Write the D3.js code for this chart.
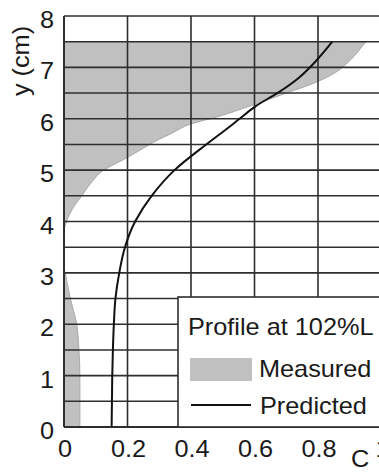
<!DOCTYPE html>
<html><head><meta charset="utf-8">
<script src="https://cdn.jsdelivr.net/npm/d3@7/dist/d3.min.js"></script>
<style>
html,body{margin:0;padding:0;background:#fff;overflow:hidden;}
svg{display:block;}
text{font-family:"Liberation Sans",Arial,sans-serif;fill:#1a1a1a;}
</style></head>
<body>
<svg id="chart" width="379" height="473"></svg>
<script>
// ---- data ----
const measuredY = [0, 0.5, 1, 1.5, 2, 2.5, 2.8, 3.0, 3.1, 3.8, 4.0, 4.25, 4.5, 4.75, 5.0, 5.2, 5.3, 5.5, 5.6, 5.7, 5.9, 6.05, 6.15, 6.3, 6.5, 6.7, 6.9, 7.1, 7.3, 7.5];
const measuredC = [0.05, 0.05, 0.05, 0.047, 0.04, 0.02, 0.01, 0.004, 0, 0, 0.008, 0.027, 0.056, 0.085, 0.125, 0.186, 0.215, 0.27, 0.30, 0.334, 0.40, 0.49, 0.54, 0.61, 0.70, 0.79, 0.855, 0.895, 0.925, 0.95];
const predictedY = [0, 0.5, 1, 1.5, 2, 2.5, 3, 3.5, 4, 4.5, 5, 5.5, 5.8, 6, 6.25, 6.5, 6.8, 7.1, 7.5];
const predictedC = [0.15, 0.151, 0.152, 0.154, 0.157, 0.162, 0.174, 0.192, 0.224, 0.276, 0.348, 0.448, 0.512, 0.553, 0.605, 0.672, 0.74, 0.79, 0.845];
const xTicks = [0, 0.2, 0.4, 0.6, 0.8, 1];
const yTicks = [0, 1, 2, 3, 4, 5, 6, 7, 8];
const yGrid = d3.range(0, 8.01, 0.5);
const legendTitle = "Profile at 102%L";
const legendLabels = ["Measured", "Predicted"];

// ---- layout ----
const svg = d3.select("#chart");
const pLeft = 64, pTop = 16, pRight = 381.5, pBottom = 427;
const x = d3.scaleLinear().domain([0, 1]).range([pLeft, pRight]);
const y = d3.scaleLinear().domain([0, 8]).range([pBottom, pTop]);
const FS = 23, SX = 1.1;
const gridColor = "#2e2e2e";

function txt(g, str, tx, ty, anchor, rot) {
  return g.append("text")
    .attr("transform", `translate(${tx},${ty})` + (rot ? ` rotate(${rot})` : "") + ` scale(${SX},1)`)
    .attr("text-anchor", anchor || "start")
    .attr("font-size", FS)
    .text(str);
}

// measured area
const mData = measuredY.map((v, i) => ({y: v, c: measuredC[i]}));
svg.append("path")
  .datum(mData)
  .attr("d", d3.area().curve(d3.curveMonotoneY)
    .y(d => y(d.y)).x0(x(0)).x1(d => x(d.c)))
  .attr("fill", "#c0c0c0")
  .attr("stroke", "#a8a8a8")
  .attr("stroke-width", 1);

// grid
const grid = svg.append("g");
grid.selectAll(".h").data(yGrid).join("line")
  .attr("x1", pLeft).attr("x2", pRight)
  .attr("y1", d => y(d)).attr("y2", d => y(d))
  .attr("stroke", gridColor).attr("stroke-width", 1.6);
grid.selectAll(".v").data(xTicks).join("line")
  .attr("x1", d => x(d)).attr("x2", d => x(d))
  .attr("y1", pTop).attr("y2", pBottom)
  .attr("stroke", gridColor).attr("stroke-width", 1.6);

// predicted line
const pData = predictedY.map((v, i) => ({y: v, c: predictedC[i]}));
svg.append("path")
  .datum(pData)
  .attr("d", d3.line().curve(d3.curveMonotoneY).x(d => x(d.c)).y(d => y(d.y)))
  .attr("fill", "none")
  .attr("stroke", "#111")
  .attr("stroke-width", 2);

// axes frame
svg.append("line").attr("x1", pLeft).attr("x2", pLeft).attr("y1", pTop).attr("y2", pBottom)
  .attr("stroke", gridColor).attr("stroke-width", 2);
svg.append("line").attr("x1", pLeft).attr("x2", pRight).attr("y1", pBottom).attr("y2", pBottom)
  .attr("stroke", gridColor).attr("stroke-width", 2);

// tick labels
const axG = svg.append("g");
yTicks.forEach(t => txt(axG, String(t), 54, y(t) + 12, "end"));
xTicks.forEach(t => txt(axG, t === 0 ? "0" : (t === 1 ? "1" : d3.format(".1f")(t)), x(t) + 1, 457, "middle"));
txt(axG, "C", 360, 467, "middle");
txt(axG, "y (cm)", 29, 61, "middle", -90);

// legend
const lg = svg.append("g");
lg.append("rect")
  .attr("x", 178).attr("y", 297)
  .attr("width", 220).attr("height", pBottom - 297)
  .attr("fill", "#fff").attr("stroke", gridColor).attr("stroke-width", 1.6);
txt(lg, legendTitle, 188, 335, "start");
lg.append("rect").attr("x", 190).attr("y", 358).attr("width", 62).attr("height", 23)
  .attr("fill", "#c0c0c0");
txt(lg, legendLabels[0], 259, 377, "start");
lg.append("line").attr("x1", 191).attr("x2", 251).attr("y1", 405).attr("y2", 405)
  .attr("stroke", "#111").attr("stroke-width", 2);
txt(lg, legendLabels[1], 260, 414, "start");
</script>
</body></html>
